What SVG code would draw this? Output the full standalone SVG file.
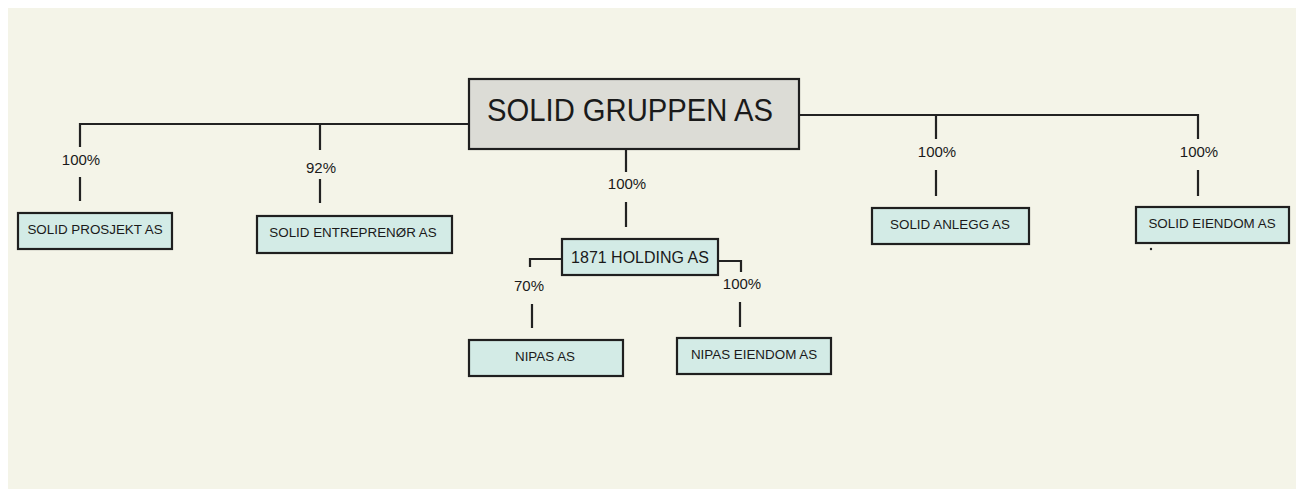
<svg xmlns="http://www.w3.org/2000/svg" width="1298" height="489" viewBox="0 0 1298 489">
<style>
.bg{fill:#f4f4e8}
.box{fill:#d3ebe6;stroke:#1f1f1f;stroke-width:2.2}
.main{fill:#dcdcd6;stroke:#1f1f1f;stroke-width:2.2}
.ln{fill:none;stroke:#222;stroke-width:2.2}
text{font-family:"Liberation Sans",Arial,sans-serif;fill:#1a1a1a;text-anchor:middle}
.s{font-size:13.4px}
.p{font-size:15px}
.h{font-size:16px}
</style>
<rect x="0" y="0" width="1298" height="489" fill="#ffffff"/>
<rect class="bg" x="8" y="8" width="1288" height="481"/>
<g id="connectors">
<path class="ln" d="M469 124 H80 V147 M80 177 V201"/>
<path class="ln" d="M320 124 V150 M320 179 V203"/>
<path class="ln" d="M626 149 V172 M626 202 V227"/>
<path class="ln" d="M799 115 H1198 V139 M1198 170 V196"/>
<path class="ln" d="M936 115 V139 M936 170 V196"/>
<path class="ln" d="M562 259 H530 V267 M532 304 V328"/>
<path class="ln" d="M718 261 H741 V272 M740 302 V327"/>
<text class="p" x="81" y="165">100%</text>
<text class="p" x="321" y="173">92%</text>
<text class="p" x="627" y="189">100%</text>
<text class="p" x="937" y="157">100%</text>
<text class="p" x="1199" y="157">100%</text>
<text class="p" x="529" y="291">70%</text>
<text class="p" x="742" y="289">100%</text>
</g>
<g id="solid-gruppen">
<rect class="main" x="469" y="79" width="330" height="70"/>
<text x="630" y="121" font-size="31" textLength="286" lengthAdjust="spacingAndGlyphs">SOLID GRUPPEN AS</text>
</g>
<g id="solid-prosjekt">
<rect class="box" x="18" y="213" width="154" height="36"/>
<text class="s" x="95" y="234">SOLID PROSJEKT AS</text>
</g>
<g id="solid-entreprenor">
<rect class="box" x="257" y="216" width="195" height="37"/>
<text class="s" x="353" y="237">SOLID ENTREPRENØR AS</text>
</g>
<g id="holding-1871">
<rect class="box" x="562" y="239" width="156" height="36"/>
<text class="h" x="640" y="263">1871 HOLDING AS</text>
</g>
<g id="nipas">
<rect class="box" x="469" y="340" width="154" height="36"/>
<text class="s" x="545" y="361">NIPAS AS</text>
</g>
<g id="nipas-eiendom">
<rect class="box" x="677" y="338" width="154" height="36"/>
<text class="s" x="754" y="359">NIPAS EIENDOM AS</text>
</g>
<g id="solid-anlegg">
<rect class="box" x="872" y="208" width="157" height="36"/>
<text class="s" x="950" y="229">SOLID ANLEGG AS</text>
</g>
<g id="solid-eiendom">
<rect class="box" x="1136" y="207" width="153" height="36"/>
<text class="s" x="1212" y="228">SOLID EIENDOM AS</text>
</g>
<circle cx="1151" cy="249" r="1.2" fill="#222"/>
</svg>
